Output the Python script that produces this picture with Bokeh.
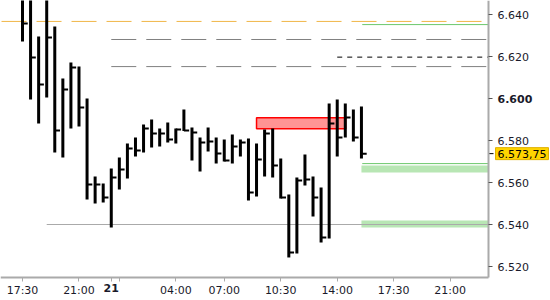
from bokeh.plotting import figure
from bokeh.models import Range1d, FixedTicker, Label
from bokeh.embed import file_html
from bokeh.resources import INLINE

# ---- data ----
bar_index = list(range(43))
highs = [6.6514, 6.6520, 6.6295, 6.6540, 6.6343, 6.6095, 6.6171, 6.6152, 6.6000, 6.5629,
         6.5595, 6.5667, 6.5719, 6.5786, 6.5814, 6.5876, 6.5900, 6.5857, 6.5886, 6.5857,
         6.5948, 6.5862, 6.5814, 6.5862, 6.5814, 6.5805, 6.5829, 6.5805, 6.5810, 6.5786,
         6.5852, 6.5857, 6.5714, 6.5543, 6.5624, 6.5733, 6.5629, 6.5576, 6.5976, 6.5995,
         6.5976, 6.5948, 6.5962]
lows = [6.6271, 6.5995, 6.5881, 6.6005, 6.5743, 6.5719, 6.5857, 6.5867, 6.5519, 6.5500,
        6.5505, 6.5386, 6.5567, 6.5619, 6.5724, 6.5743, 6.5767, 6.5771, 6.5790, 6.5786,
        6.5845, 6.5705, 6.5652, 6.5748, 6.5690, 6.5700, 6.5690, 6.5724, 6.5514, 6.5533,
        6.5629, 6.5624, 6.5524, 6.5243, 6.5262, 6.5586, 6.5438, 6.5314, 6.5333, 6.5724,
        6.5814, 6.5795, 6.5714]
closes = [6.6357, 6.6195, 6.6067, 6.6290, 6.5848, 6.6043, 6.6148, 6.5957, 6.5590, 6.5590,
          6.5529, 6.5624, 6.5662, 6.5762, 6.5752, 6.5857, 6.5833, 6.5833, 6.5805, 6.5852,
          6.5848, 6.5838, 6.5790, 6.5795, 6.5738, 6.5705, 6.5771, 6.5790, 6.5552, 6.5710,
          6.5833, 6.5681, 6.5529, 6.5267, 6.5610, 6.5614, 6.5529, 6.5338, 6.5881, 6.5814,
          6.5910, 6.5814, 6.57375]

x_ticks = [0, 7, 11, 12, 19, 25, 32, 39, 46, 53]
x_tick_labels = ["17:30", "21:00", "21", "", "04:00", "07:00", "10:30", "14:00", "17:30", "21:00"]
y_ticks = [6.52, 6.54, 6.56, 6.58, 6.60, 6.62, 6.64]
y_tick_labels = ["6.520", "6.540", "6.560", "6.580", "6.600", "6.620", "6.640"]
bold_x_label = "21"
bold_y_label = "6.600"

orange_level = 6.6367
orange_start = -2.6
gray_levels = [6.6281, 6.6152]
gray_start = 11
black_dash_level = 6.6197
black_dash_start = 39
green_line_level = 6.6352
green_line2_level = 6.5690
green_start = 42.1
green_bands_top = [6.5681, 6.5419]
green_bands_bottom = [6.5648, 6.5386]
support_level = 6.540
support_start = 3
red_zone = dict(left=29.0, right=40.05, top=6.5908, bottom=6.5856)
last_price = 6.57375
last_price_text = "6.573,75"

# ---- layout: the whole canvas is the frame, axes are pinned with fixed_location ----
PX_PER_BAR = 8.07          # horizontal pixels per bar
PX_PER_UNIT = 2100.0       # vertical pixels per price unit
X0 = -22 / PX_PER_BAR
X1 = X0 + 550 / PX_PER_BAR
Y1 = 6.64 + 14 / PX_PER_UNIT
Y0 = Y1 - 300 / PX_PER_UNIT
X_AXIS = X0 + 488 / PX_PER_BAR     # where the price axis sits
Y_AXIS = Y1 - 277 / PX_PER_UNIT    # where the time axis sits

p = figure(width=550, height=300, output_backend="svg", toolbar_location=None,
           x_range=Range1d(X0, X1), y_range=Range1d(Y0, Y1),
           y_axis_location="right",
           min_border_left=0, min_border_top=0, min_border_right=0, min_border_bottom=0)
p.grid.visible = False
p.outline_line_color = None
p.background_fill_color = "white"
p.border_fill_color = "white"

font = "DejaVu Sans"
label_color = "#1a1a2a"

yax = p.yaxis[0]
yax.fixed_location = X_AXIS
yax.bounds = (Y_AXIS, Y1)
yax.ticker = FixedTicker(ticks=y_ticks)
yax.major_label_overrides = {t: ("" if l == bold_y_label else l) for t, l in zip(y_ticks, y_tick_labels)}
yax.axis_line_color = "#aaaaaa"
yax.axis_line_width = 2
yax.major_tick_line_color = "#555555"
yax.major_tick_in = 0
yax.major_tick_out = 4
yax.minor_tick_line_color = None
yax.major_label_standoff = 5
yax.major_label_text_font = font
yax.major_label_text_font_size = "11px"
yax.major_label_text_color = label_color

xax = p.xaxis[0]
xax.fixed_location = Y_AXIS
xax.bounds = (X0, X_AXIS)
xax.ticker = FixedTicker(ticks=x_ticks)
xax.major_label_overrides = {t: ("" if l == bold_x_label else l) for t, l in zip(x_ticks, x_tick_labels)}
xax.axis_line_color = "#aaaaaa"
xax.axis_line_width = 2
xax.major_tick_line_color = "#aaaaaa"
xax.major_tick_in = 0
xax.major_tick_out = 4
xax.minor_tick_line_color = None
xax.major_label_standoff = 2
xax.major_label_text_font = font
xax.major_label_text_font_size = "11px"
xax.major_label_text_color = label_color

# bands
p.quad(left=[green_start - 0.1] * 2, right=[X_AXIS] * 2, top=green_bands_top, bottom=green_bands_bottom,
       fill_color="#b8e6b4", line_color=None)
# level lines
p.segment(x0=[orange_start], y0=[orange_level], x1=[X_AXIS], y1=[orange_level],
          line_color="#f0b648", line_width=1, line_dash="25 10")
p.segment(x0=[gray_start] * 2, y0=gray_levels, x1=[X_AXIS] * 2, y1=gray_levels,
          line_color="#808080", line_width=1, line_dash="25 10")
p.segment(x0=[black_dash_start], y0=[black_dash_level], x1=[X_AXIS], y1=[black_dash_level],
          line_color="black", line_width=1, line_dash="5 5")
p.segment(x0=[green_start] * 2, y0=[green_line_level, green_line2_level], x1=[X_AXIS] * 2,
          y1=[green_line_level, green_line2_level], line_color="#6cc86c", line_width=1)
p.segment(x0=[support_start], y0=[support_level], x1=[X_AXIS], y1=[support_level],
          line_color="#aaaaaa", line_width=1)
# red zone
p.quad(left=[red_zone["left"]], right=[red_zone["right"]], top=[red_zone["top"]],
       bottom=[red_zone["bottom"]], fill_color="#ff9494", line_color="#ff0000", line_width=1.5)

# HLC bars
p.segment(x0=bar_index, y0=lows, x1=bar_index, y1=highs, line_color="black", line_width=3)
p.segment(x0=bar_index, y0=closes, x1=[i + 0.65 for i in bar_index], y1=closes,
          line_color="black", line_width=2)

# bold tick labels
p.add_layout(Label(x=x_ticks[x_tick_labels.index(bold_x_label)], y=Y_AXIS, y_offset=-6,
                   text=bold_x_label, text_font=font, text_font_size="11px", text_font_style="bold",
                   text_align="center", text_baseline="top", text_color=label_color))
p.add_layout(Label(x=X_AXIS, x_offset=9, y=y_ticks[y_tick_labels.index(bold_y_label)],
                   text=bold_y_label, text_font=font, text_font_size="11px", text_font_style="bold",
                   text_align="left", text_baseline="middle", text_color=label_color))
# last price tag
p.segment(x0=[X_AXIS], y0=[last_price], x1=[X_AXIS + 5 / PX_PER_BAR], y1=[last_price],
          line_color="black", line_width=1)
p.add_layout(Label(x=X_AXIS, x_offset=7, y=last_price, text=last_price_text,
                   text_font=font, text_font_size="11px", text_align="left",
                   text_baseline="middle", text_color="black",
                   background_fill_color="#ffd400", border_line_color="#e0b000",
                   padding=2))

open("out.html", "w").write(file_html(p, INLINE))
